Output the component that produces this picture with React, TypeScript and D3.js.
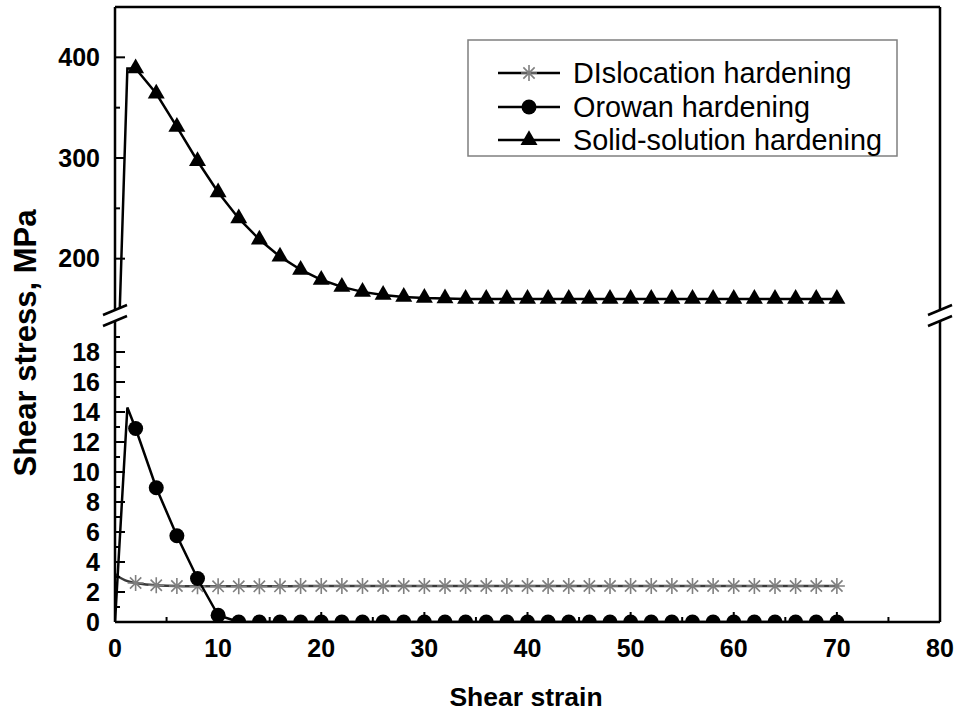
import React from "react";
import * as d3 from "d3";

// ---- data ----
const dislocationStrain = [0, 0.5, 1, 1.5, 2, 3, 4, 5, 6, 8, 10, 12, 14, 16, 18, 20, 22, 24, 26, 28, 30, 32, 34, 36, 38, 40, 42, 44, 46, 48, 50, 52, 54, 56, 58, 60, 62, 64, 66, 68, 70];
const dislocationStress = [3.2, 2.95, 2.78, 2.67, 2.6, 2.5, 2.45, 2.42, 2.4, 2.38, 2.38, 2.38, 2.38, 2.38, 2.4, 2.4, 2.4, 2.4, 2.4, 2.4, 2.4, 2.4, 2.4, 2.4, 2.4, 2.4, 2.4, 2.4, 2.4, 2.4, 2.4, 2.4, 2.4, 2.4, 2.4, 2.4, 2.4, 2.4, 2.4, 2.4, 2.4];

const orowanStrain = [0, 1.2, 2, 4, 6, 8, 10, 12, 14, 16, 18, 20, 22, 24, 26, 28, 30, 32, 34, 36, 38, 40, 42, 44, 46, 48, 50, 52, 54, 56, 58, 60, 62, 64, 66, 68, 70];
const orowanStress = [0, 14.3, 12.9, 8.95, 5.75, 2.9, 0.45, 0, 0, 0, 0, 0, 0, 0, 0, 0, 0, 0, 0, 0, 0, 0, 0, 0, 0, 0, 0, 0, 0, 0, 0, 0, 0, 0, 0, 0, 0];

const solidStrain = [0, 1.2, 2, 4, 6, 8, 10, 12, 14, 16, 18, 20, 22, 24, 26, 28, 30, 32, 34, 36, 38, 40, 42, 44, 46, 48, 50, 52, 54, 56, 58, 60, 62, 64, 66, 68, 70];
const solidStress = [0, 389, 389, 364, 331, 297, 266, 240, 219, 202, 189, 179, 172, 167, 164, 162, 161, 160.5, 160, 160, 160, 160, 160, 160, 160, 160, 160, 160, 160, 160, 160, 160, 160, 160, 160, 160, 160];

const seriesNames = ["DIslocation hardening", "Orowan hardening", "Solid-solution hardening"];

const xTicks = [0, 10, 20, 30, 40, 50, 60, 70, 80];
const xMinorTicks = [5, 15, 25, 35, 45, 55, 65, 75];
const upperTicks = [200, 300, 400];
const upperMinorTicks = [250, 350];
const lowerTicks = [0, 2, 4, 6, 8, 10, 12, 14, 16, 18];
const lowerMinorTicks = [1, 3, 5, 7, 9, 11, 13, 15, 17, 19];

const xTitle = "Shear strain";
const yTitle = "Shear stress, MPa";

// ---- layout ----
const W = 960, H = 717;
const L = 115, R = 940, TOP = 7, UB = 309, LT = 322, BOT = 622;
const FONT = "Arial, 'Liberation Sans', sans-serif";

const x = d3.scaleLinear().domain([0, 80]).range([L, R]);
const yU = d3.scaleLinear().domain([150, 450]).range([UB, TOP]);
const yL = d3.scaleLinear().domain([0, 20]).range([BOT, LT]);

const isMarker = (s: number) => s >= 2 && Math.abs(s % 2) < 1e-9;

function starPath(r: number) {
  let p = "";
  for (let i = 0; i < 4; i++) {
    const a = (i * Math.PI) / 4;
    const dx = Math.cos(a) * r, dy = Math.sin(a) * r;
    p += `M${-dx},${-dy}L${dx},${dy}`;
  }
  return p;
}
const triPath = d3.symbol(d3.symbolTriangle, 125)() as string;
const STAR = starPath(8);

const tickStyle: React.CSSProperties = { fontSize: "25px", fontWeight: 700, fontFamily: FONT };

export default function App() {
  const line = (xs: number[], ys: number[], yS: d3.ScaleLinear<number, number>, curve = d3.curveLinear) =>
    d3.line<number>().x((_, i) => x(xs[i])).y((d) => yS(d)).curve(curve)(ys) as string;

  const dislPath = line(dislocationStrain, dislocationStress, yL, d3.curveMonotoneX);
  const orowPath = line(orowanStrain, orowanStress, yL);
  const solidPath = line(solidStrain, solidStress, yU);

  const breakMark = (cx: number, cy: number, k: string) => (
    <line key={k} x1={cx - 12} y1={cy + 5} x2={cx + 12} y2={cy - 5} stroke="#000" strokeWidth={2.5} />
  );

  return (
    <svg width={W} height={H} style={{ position: "absolute", left: 0, top: 0, background: "#fff", fontFamily: FONT }}>
      <defs>
        <clipPath id="clipU"><rect x={L} y={TOP} width={R - L} height={UB - TOP} /></clipPath>
        <clipPath id="clipL"><rect x={L} y={LT} width={R - L} height={BOT - LT} /></clipPath>
      </defs>
      <rect x={0} y={0} width={W} height={H} fill="#fff" />

      {/* series - lower */}
      <g clipPath="url(#clipL)">
        <path d={dislPath} fill="none" stroke="#3a3a3a" strokeWidth={2.5} />
        {dislocationStrain.map((s, i) =>
          isMarker(s) ? (
            <path key={"d" + i} d={STAR} transform={`translate(${x(s)},${yL(dislocationStress[i])})`} stroke="#808080" strokeWidth={1.6} fill="none" />
          ) : null
        )}
        <path d={orowPath} fill="none" stroke="#000" strokeWidth={2.5} />
        {orowanStrain.map((s, i) =>
          isMarker(s) ? <circle key={"o" + i} cx={x(s)} cy={yL(orowanStress[i])} r={7.5} fill="#000" /> : null
        )}
      </g>
      {/* series - upper */}
      <g clipPath="url(#clipU)">
        <path d={solidPath} fill="none" stroke="#000" strokeWidth={2.5} />
        {solidStrain.map((s, i) =>
          isMarker(s) ? (
            <path key={"s" + i} d={triPath} transform={`translate(${x(s)},${yU(solidStress[i])})`} fill="#000" />
          ) : null
        )}
      </g>

      {/* frame */}
      <g stroke="#000" strokeWidth={2.5} fill="none">
        <line x1={L} y1={TOP} x2={R} y2={TOP} />
        <line x1={L} y1={BOT} x2={R} y2={BOT} />
        <line x1={L} y1={TOP} x2={L} y2={UB + 1} />
        <line x1={L} y1={LT - 1} x2={L} y2={BOT} />
        <line x1={R} y1={TOP} x2={R} y2={UB + 1} />
        <line x1={R} y1={LT - 1} x2={R} y2={BOT} />
      </g>
      {breakMark(L, UB + 1, "b1")}
      {breakMark(L, LT - 1, "b2")}
      {breakMark(R, UB + 1, "b3")}
      {breakMark(R, LT - 1, "b4")}

      {/* ticks */}
      <g stroke="#000" strokeWidth={2}>
        {xTicks.map((t) => <line key={"xt" + t} x1={x(t)} x2={x(t)} y1={BOT} y2={BOT - 10} />)}
        {xMinorTicks.map((t) => <line key={"xm" + t} x1={x(t)} x2={x(t)} y1={BOT} y2={BOT - 5} />)}
        {upperTicks.map((t) => <line key={"ut" + t} x1={L} x2={L + 10} y1={yU(t)} y2={yU(t)} />)}
        {upperMinorTicks.map((t) => <line key={"um" + t} x1={L} x2={L + 5} y1={yU(t)} y2={yU(t)} />)}
        {lowerTicks.map((t) => <line key={"lt" + t} x1={L} x2={L + 10} y1={yL(t)} y2={yL(t)} />)}
        {lowerMinorTicks.map((t) => <line key={"lm" + t} x1={L} x2={L + 5} y1={yL(t)} y2={yL(t)} />)}
      </g>

      {/* tick labels */}
      {xTicks.map((t) => (
        <text key={"xl" + t} x={x(t)} y={657} textAnchor="middle" style={tickStyle}>{t}</text>
      ))}
      {upperTicks.map((t) => (
        <text key={"ul" + t} x={100} y={yU(t) + 8.5} textAnchor="end" style={tickStyle}>{t}</text>
      ))}
      {lowerTicks.map((t) => (
        <text key={"ll" + t} x={100} y={yL(t) + 8.5} textAnchor="end" style={tickStyle}>{t}</text>
      ))}

      {/* titles */}
      <text x={526} y={706} textAnchor="middle" style={{ fontSize: "26.5px", fontWeight: 700 }}>{xTitle}</text>
      <text transform="translate(36,343) rotate(-90)" textAnchor="middle" style={{ fontSize: "31px", fontWeight: 700 }}>{yTitle}</text>

      {/* legend */}
      <rect x={468} y={40} width={429} height={116} fill="#fff" stroke="#7f7f7f" strokeWidth={1.5} />
      {seriesNames.map((name, i) => {
        const cy = [73, 107, 140][i];
        return (
          <g key={"lg" + i}>
            <line x1={498} x2={560} y1={cy} y2={cy} stroke="#000" strokeWidth={2.5} />
            {i === 0 && <path d={STAR} transform={`translate(529,${cy})`} stroke="#808080" strokeWidth={1.6} fill="none" />}
            {i === 1 && <circle cx={529} cy={cy} r={7.5} fill="#000" />}
            {i === 2 && <path d={triPath} transform={`translate(529,${cy})`} fill="#000" />}
            <text x={573} y={cy + 10} style={{ fontSize: "28.8px" }} fill="#000">{name}</text>
          </g>
        );
      })}
    </svg>
  );
}
